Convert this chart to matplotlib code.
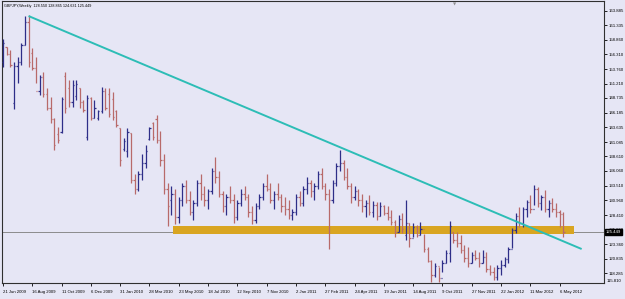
import matplotlib
matplotlib.use("Agg")
import matplotlib.pyplot as plt
from matplotlib.patches import Rectangle

# ---------------- data ----------------
date_labels = ["21 Jun 2009", "16 Aug 2009", "11 Oct 2009", "6 Dec 2009", "31 Jan 2010",
               "28 Mar 2010", "23 May 2010", "18 Jul 2010", "12 Sep 2010", "7 Nov 2010",
               "2 Jan 2011", "27 Feb 2011", "24 Apr 2011", "19 Jun 2011", "14 Aug 2011",
               "9 Oct 2011", "27 Nov 2011", "22 Jan 2012", "11 Mar 2012", "6 May 2012"]

price_ticks = [163.885, 161.335, 158.860, 156.310, 153.760, 151.210, 148.735, 146.185,
               143.635, 141.085, 138.610, 136.060, 133.510, 130.960, 128.410, 125.860,
               123.360, 120.835, 118.285, 115.810]

opens = [155.0, 157.5, 156.4, 147.8, 154.2, 155.0, 158.0, 162.0, 156.5, 154.0,
         150.0, 152.3, 149.5, 147.0, 145.0, 142.5, 142.8, 152.5, 150.5, 148.0,
         149.0, 150.5, 148.0, 142.0, 148.8, 145.3, 145.2, 146.4, 150.0, 149.5,
         148.5, 146.4, 143.5, 139.9, 139.5, 142.6, 134.5, 133.0, 135.5, 137.5,
         141.6, 144.4, 145.0, 141.5, 138.0, 133.0, 131.0, 132.0, 128.0, 131.0,
         133.5, 131.0, 129.0, 130.5, 134.0, 132.0, 131.0, 132.5, 136.0, 135.0,
         132.0, 130.0, 131.5, 131.0, 128.0, 130.5, 132.0, 131.5, 129.0, 127.5,
         130.0, 131.5, 133.5, 133.0, 131.0, 132.0, 131.5, 130.0, 129.5, 128.5,
         129.0, 131.5, 130.5, 133.0, 134.0, 132.5, 133.5, 135.5, 133.5, 132.0,
         131.0, 134.0, 137.0, 137.5, 135.0, 133.5, 131.5, 132.5, 131.0, 130.0,
         130.5, 129.0, 130.2, 128.2, 130.0, 128.8, 128.0, 127.2, 125.5, 127.8,
         125.0, 127.0, 124.5, 126.3, 125.0, 126.0, 122.5, 120.5, 118.0, 119.5,
         117.5, 120.0, 121.8, 125.4, 124.0, 123.5, 122.3, 121.0, 120.0, 121.5,
         121.0, 120.0, 121.2, 119.0, 118.5, 117.6, 119.2, 119.8, 120.8, 122.5,
         125.8, 128.3, 127.0, 129.5, 130.7, 129.5, 133.0, 130.5, 131.5, 129.5,
         130.5, 129.5, 129.0, 128.550]
highs = [159.0, 157.6, 157.1, 155.0, 155.8, 158.3, 163.0, 163.1, 157.4, 155.8,
         152.7, 153.2, 150.5, 148.9, 145.2, 143.7, 148.9, 153.2, 151.8, 151.8,
         151.8, 150.5, 148.4, 149.2, 148.9, 148.4, 146.6, 150.7, 150.5, 150.5,
         149.7, 146.6, 143.5, 141.7, 143.5, 142.6, 135.5, 136.0, 139.0, 140.5,
         143.7, 144.6, 145.8, 143.0, 139.0, 134.0, 133.5, 133.0, 131.5, 134.0,
         134.5, 132.5, 131.0, 134.5, 135.5, 133.5, 133.0, 136.5, 138.5, 136.0,
         132.5, 132.0, 133.5, 132.0, 131.0, 133.0, 133.5, 132.0, 130.0, 130.5,
         132.0, 134.0, 135.5, 134.0, 132.5, 134.0, 132.0, 131.5, 131.0, 129.5,
         132.0, 132.5, 133.5, 135.0, 134.5, 134.0, 136.0, 136.5, 134.0, 133.0,
         134.5, 137.5, 139.7, 138.0, 136.5, 134.0, 133.5, 133.0, 132.0, 131.0,
         131.9, 130.8, 130.6, 130.6, 130.2, 130.0, 129.3, 127.5, 128.4, 128.8,
         131.0, 127.0, 127.0, 126.7, 127.2, 125.2, 122.9, 120.6, 120.1, 119.4,
         120.6, 122.3, 127.3, 125.5, 125.5, 124.9, 123.2, 122.9, 122.0, 122.3,
         122.0, 122.3, 122.0, 119.7, 119.4, 119.7, 120.6, 121.1, 122.9, 126.2,
         128.8, 129.8, 129.8, 131.0, 131.9, 133.6, 133.3, 131.9, 132.8, 131.0,
         131.4, 130.5, 129.3, 128.865]
lows = [154.1, 156.2, 154.1, 146.9, 151.3, 154.5, 158.0, 154.1, 153.6, 151.3,
        149.2, 148.9, 146.6, 144.4, 139.7, 140.9, 142.6, 146.1, 147.2, 147.2,
        148.4, 147.0, 146.3, 141.4, 144.9, 145.3, 144.9, 146.1, 146.6, 145.4,
        144.9, 143.7, 137.0, 139.5, 138.5, 134.0, 132.0, 132.5, 134.5, 136.5,
        141.4, 141.4, 140.9, 137.0, 132.0, 126.5, 128.5, 126.8, 127.0, 130.0,
        130.5, 128.5, 127.5, 130.0, 131.0, 130.0, 129.5, 132.0, 134.0, 131.5,
        129.0, 128.5, 130.5, 127.0, 127.5, 130.0, 131.0, 128.0, 126.8, 127.0,
        129.5, 131.0, 132.5, 130.5, 129.5, 131.0, 129.0, 128.5, 127.8, 127.5,
        128.5, 130.0, 130.0, 132.0, 131.5, 131.0, 133.0, 133.0, 131.0, 122.5,
        130.5, 133.5, 136.0, 134.5, 133.0, 130.5, 131.0, 130.0, 129.0, 128.0,
        128.4, 128.0, 127.6, 128.2, 128.4, 127.5, 126.7, 124.6, 125.5, 125.3,
        124.1, 122.9, 124.6, 124.6, 124.9, 122.0, 120.3, 116.8, 117.6, 116.7,
        118.5, 120.1, 120.3, 123.6, 122.9, 121.8, 120.3, 119.4, 120.1, 120.6,
        119.4, 120.1, 118.5, 118.0, 117.1, 117.1, 118.0, 119.4, 120.1, 122.7,
        125.3, 126.3, 126.3, 128.1, 128.8, 130.2, 129.8, 129.3, 128.9, 128.0,
        128.9, 128.1, 126.3, 124.631]
closes = [158.3, 156.4, 154.5, 154.2, 155.0, 158.0, 162.0, 155.0, 154.0, 150.0,
          152.3, 149.5, 147.0, 145.0, 140.5, 141.5, 148.5, 147.0, 148.0, 151.0,
          151.2, 148.0, 146.6, 148.8, 145.3, 147.0, 146.4, 150.0, 147.0, 146.0,
          145.5, 144.0, 137.9, 141.3, 142.8, 134.5, 133.0, 135.5, 137.5, 139.5,
          143.5, 142.0, 141.5, 138.0, 133.0, 130.0, 132.0, 128.0, 131.0, 133.5,
          131.0, 129.0, 130.5, 134.0, 132.0, 131.0, 132.5, 136.0, 135.0, 132.0,
          130.0, 131.5, 131.0, 128.0, 130.5, 132.0, 131.5, 129.0, 127.5, 130.0,
          131.5, 133.5, 133.0, 131.0, 132.0, 131.5, 130.0, 129.5, 128.5, 129.0,
          131.5, 130.5, 133.0, 134.0, 132.5, 133.5, 135.5, 133.5, 132.0, 131.0,
          134.0, 137.0, 137.5, 135.0, 133.5, 131.5, 132.5, 131.0, 130.0, 130.5,
          129.0, 130.2, 128.2, 130.0, 128.8, 128.0, 127.2, 125.5, 127.8, 126.0,
          127.0, 124.5, 126.3, 125.0, 126.0, 122.5, 120.5, 118.0, 119.5, 117.5,
          120.0, 121.8, 126.5, 124.0, 123.5, 122.3, 121.0, 120.0, 121.5, 121.0,
          120.0, 121.2, 119.0, 118.5, 117.6, 119.2, 119.8, 120.8, 122.5, 125.8,
          128.3, 127.0, 129.5, 130.7, 129.5, 133.0, 130.5, 131.5, 129.5, 130.5,
          129.5, 129.0, 128.55, 125.449]

title_text = "GBPJPY,Weekly  128.550 128.865 124.631 125.449"
last_price = 125.449
band_low, band_high = 125.12, 126.51
band_start, band_end = 46.4, 156.0
trend_x = [7.0, 158.0]
trend_y = [162.96, 122.51]

# ---------------- figure ----------------
plt.rcParams["font.family"] = ["Liberation Sans", "DejaVu Sans"]
FS = 3.1
W, H = 625, 299
bg = "#E6E6F5"
fig = plt.figure(figsize=(W / 100, H / 100), dpi=100, facecolor=bg)
L, R, T, B = 2, 604, 1, 283
ax = fig.add_axes([L / W, 1 - B / H, (R - L) / W, (B - T) / H])
ax.set_facecolor(bg)

n = len(closes)
up_col = "#2E2E88"
dn_col = "#B86A6A"
for i in range(n):
    c = up_col if closes[i] >= opens[i] else dn_col
    ax.vlines(i, lows[i], highs[i], color=c, lw=0.9, zorder=3)
    ax.hlines(opens[i], i - 0.35, i, color=c, lw=0.9, zorder=3)
    ax.hlines(closes[i], i, i + 0.35, color=c, lw=0.9, zorder=3)

ax.add_patch(Rectangle((band_start, band_low), band_end - band_start, band_high - band_low,
                       facecolor="#D9A521", edgecolor="none", zorder=2))
ax.axhline(last_price, color="#8C8C8C", lw=0.7, zorder=1)
ax.plot(trend_x, trend_y, color="#2DBDB6", lw=1.4, zorder=4, solid_capstyle="butt")

ax.set_xlim(-0.25, 164.1)
ax.set_ylim(116.61, 165.57)

ax.yaxis.tick_right()
ax.set_yticks(price_ticks[:-1])
ax.set_yticklabels([f"{v:.3f}" for v in price_ticks[:-1]], fontsize=FS)
ax.tick_params(axis="y", length=2, width=0.6, pad=1, colors="black")
ax.set_xticks(list(range(0, 8 * len(date_labels), 8)))
ax.set_xticklabels(date_labels, fontsize=FS, ha="left")
ax.tick_params(axis="x", length=2, width=0.6, pad=3, colors="black")
for s in ax.spines.values():
    s.set_color("#303030")
    s.set_linewidth(0.8)

fig.text((R + 3) / W, 1 - 281 / H, "115.810", fontsize=FS, va="center", ha="left")
fig.text(4 / W, 1 - 6 / H, title_text, fontsize=2.7, va="center", ha="left")
# small shift marker at top
fig.text(455 / W, 1 - 4 / H, "\u25BC", fontsize=3, color="#909090", va="center", ha="center",
         family="DejaVu Sans")
# current price tag
yl = 1 - (10.7 + (163.885 - last_price) * 5.76) / H
fig.text((R + 2) / W, yl, f"{last_price:.3f}", fontsize=FS, va="center", ha="left",
         color="white", zorder=10,
         bbox=dict(boxstyle="square,pad=0.25", fc="black", ec="black"))

fig.savefig("out.png", dpi=100, facecolor=bg)
